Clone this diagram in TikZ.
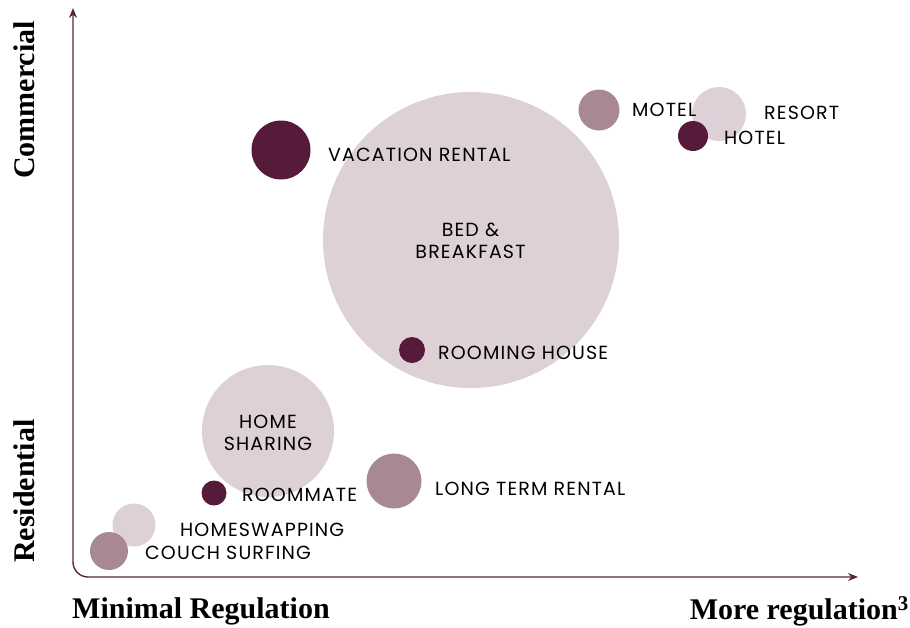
\documentclass[tikz,border=0pt]{standalone}
\usepackage{fontspec}
\setmainfont{Liberation Serif}
\newfontfamily\lblfont[LetterSpace=6]{Poppins}
\usetikzlibrary{arrows.meta}
\definecolor{darkp}{HTML}{561A3B}
\definecolor{midp}{HTML}{A98896}
\definecolor{lightp}{HTML}{DDD0D7}
\definecolor{axisc}{HTML}{5C2244}
\begin{document}
\begin{tikzpicture}[x=1pt,y=-1pt,
  bub/.style={circle,inner sep=0pt,minimum size=#1},
  dk/.style={bub=#1,fill=darkp},
  md/.style={bub=#1,fill=midp},
  lt/.style={bub=#1,fill=lightp},
  lbl/.style={font=\lblfont\fontsize{19}{21.7}\selectfont,text=black,inner sep=0pt},
  ax/.style={font=\bfseries\fontsize{30}{34}\selectfont,inner sep=0pt},
  axisline/.style={draw=axisc,line width=1.4pt,rounded corners=15pt,{Stealth[length=10pt,width=8pt]}-{Stealth[length=10pt,width=8pt]}}]
\useasboundingbox (0,0) rectangle (910,627);
% bubbles
\node[lt=296pt] (bb) at (471,240) {};
\node[dk=59pt] (vac) at (281,150) {};
\node[dk=26pt] (room) at (412,350) {};
\node[md=41pt] (motel) at (599,110) {};
\node[lt=54pt] (resort) at (719,114) {};
\node[dk=30pt] (hotel) at (693,136) {};
\node[lt=132pt] (hs) at (268,431) {};
\node[dk=25pt] (rm) at (214,493) {};
\node[md=55pt] (ltr) at (394,481) {};
\node[lt=43pt] (hsw) at (134,525) {};
\node[md=38pt] (cs) at (109,551) {};
% labels
\node[lbl,anchor=west] (vacl) at (328,155) {VACATION RENTAL};
\node[lbl,align=center] (bbl) at (470.5,241) {BED \&\\BREAKFAST};
\node[lbl,anchor=west] (rooml) at (438,353) {ROOMING HOUSE};
\node[lbl,anchor=west] (motell) at (632,110) {MOTEL};
\node[lbl,anchor=west] (resortl) at (764,113) {RESORT};
\node[lbl,anchor=west] (hotell) at (724,138) {HOTEL};
\node[lbl,align=center] (hsl) at (268,433) {HOME\\SHARING};
\node[lbl,anchor=west] (rml) at (242,495) {ROOMMATE};
\node[lbl,anchor=west] (ltrl) at (435,489) {LONG TERM RENTAL};
\node[lbl,anchor=west] (hswl) at (180,530) {HOMESWAPPING};
\node[lbl,anchor=west] (csl) at (145,553) {COUCH SURFING};
% axes
\coordinate (ytop) at (73,8);
\coordinate (orig) at (73,577);
\coordinate (xend) at (858,577);
\draw[axisline] (ytop) -- (orig) -- (xend);
\node[ax,rotate=90] (com) at (24,100) {Commercial};
\node[ax,rotate=90] (res) at (24,491) {Residential};
\node[ax,anchor=west] (minr) at (72,611) {Minimal Regulation};
\node[ax,anchor=east] (morer) at (909,611) {More regulation\textsuperscript{3}};
\end{tikzpicture}
\end{document}
